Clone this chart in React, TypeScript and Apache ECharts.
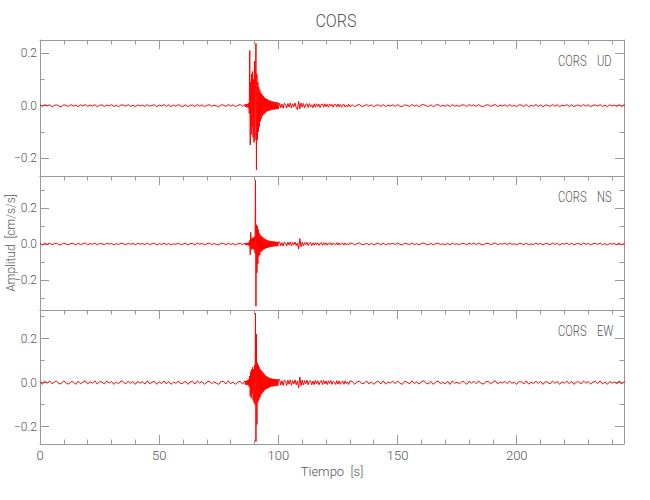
import React, { useEffect, useRef } from "react";
import * as echarts from "echarts";

// ---------- data (cm/s/s) ----------
const STATION = "CORS";
const components = ["UD", "NS", "EW"];
const xMajorTicks = [0, 50, 100, 150, 200];
const xMinorTicks = [10, 20, 30, 40, 60, 70, 80, 90, 110, 120, 130, 140, 160, 170, 180, 190, 210, 220, 230, 240];
const yMajorTicks = [-0.2, 0, 0.2];
const yMinorTicks = [-0.3, -0.1, 0.1, 0.3];
const yMin = [-0.268, -0.367, -0.279];
const yMax = [0.25, 0.378, 0.33];
const X_MAX = 245;

// sampling grids (s)
const QUIET_START = 0, QUIET_STEP = 1;
const BURST_START = 86, BURST_STEP = 0.2;
const CODA_START = 100.5, CODA_STEP = 0.5;
const TAIL_START = 131, TAIL_STEP = 1;

// ---- UD ----
const udQuiet = [
  0.002, -0.003, 0.004, -0.001, 0.003, -0.004, 0.001, 0.003, -0.002, -0.004,
  0.003, 0.001, -0.003, 0.004, -0.002, 0.002, -0.004, 0.003, -0.001, 0.004,
  -0.003, 0.002, -0.002, 0.004, -0.004, 0.001, 0.003, -0.003, 0.002, -0.001,
  0.004, -0.003, 0.001, -0.004, 0.003, 0.002, -0.002, 0.004, -0.003, 0.001,
  -0.004, 0.003, -0.001, 0.002, -0.003, 0.004, -0.002, 0.001, 0.003, -0.004,
  0.002, -0.001, 0.004, -0.003, 0.003, -0.004, 0.002, -0.002, 0.004, -0.001,
  -0.003, 0.003, -0.004, 0.001, 0.002, -0.003, 0.004, -0.002, 0.003, -0.004,
  0.001, 0.004, -0.003, 0.002, -0.001, -0.004, 0.003, 0.002, -0.003, 0.004,
  -0.002, 0.003, -0.004, 0.001, 0.004, -0.003,
];
const udBurst = [
  0.004, -0.005, 0.006, -0.004, 0.005, -0.006, 0.007, -0.008, 0.01, -0.03,
  0.21, -0.15, 0.09, -0.11, 0.12, -0.08, 0.13, -0.12, 0.1, -0.14,
  0.17, -0.13, 0.08, 0.237, -0.245, 0.12, -0.13, 0.09, -0.1, 0.07,
  -0.08, 0.06, -0.06, 0.05, -0.05, 0.045, -0.04, 0.04, -0.035, 0.035,
  -0.03, 0.03, -0.03, 0.028, -0.025, 0.025, -0.022, 0.024, -0.02, 0.02,
  -0.02, 0.018, -0.018, 0.02, -0.017, 0.016, -0.016, 0.015, -0.015, 0.016,
  -0.014, 0.014, -0.015, 0.013, -0.013, 0.014, -0.012, 0.012, -0.013, 0.012,
  -0.012,
];
const udCoda = [
  0.01, -0.008, 0.006, -0.01, 0.009, 0.004, -0.009, 0.008, -0.005, 0.01,
  -0.009, 0.007, -0.004, 0.01, -0.008, -0.015, 0.016, -0.012, 0.01, -0.006,
  0.008, -0.008, 0.004, 0.007, -0.007, 0.008, -0.005, 0.003, -0.008, 0.007,
  -0.006, 0.007, -0.003, 0.006, -0.007, 0.004, 0.006, -0.006, 0.007, -0.004,
  0.005, -0.006, 0.006, -0.002, 0.005, -0.006, 0.004, 0.005, -0.005, 0.006,
  -0.004, 0.005, -0.006, 0.003, 0.005, -0.005, 0.002, -0.005, 0.006, -0.004,
];
const udTail = [
  0.003, -0.004, 0.002, 0.004, -0.003, -0.001, 0.004, -0.002, 0.003, -0.004,
  0.001, 0.003, -0.003, 0.004, -0.004, 0.002, -0.001, 0.003, -0.003, 0.004,
  -0.002, -0.004, 0.003, 0.001, -0.003, 0.004, -0.002, 0.002, -0.004, 0.003,
  0.004, -0.001, -0.003, 0.003, -0.004, 0.002, 0.004, -0.003, 0.001, -0.002,
  0.003, -0.004, 0.004, -0.002, 0.001, -0.003, 0.003, 0.002, -0.004, 0.004,
  -0.001, 0.003, -0.003, 0.004, -0.002, -0.004, 0.002, 0.003, -0.003, 0.001,
  0.004, -0.004, 0.002, -0.001, 0.003, -0.003, 0.004, -0.002, 0.001, -0.004,
  0.003, 0.002, -0.003, 0.004, -0.004, 0.001, -0.002, 0.004, -0.003, 0.003,
  -0.004, 0.002, 0.001, -0.003, 0.004, -0.002, 0.003, -0.004, 0.002, -0.001,
  0.004, -0.003, 0.003, -0.004, 0.001, 0.002, -0.003, 0.004, -0.002, 0.003,
  -0.004, 0.001, 0.003, -0.002, 0.004, -0.003, 0.002, -0.004, 0.003, -0.001,
  0.002, -0.003, 0.004, -0.004, 0.003, -0.002,
];

// ---- NS ----
const nsQuiet = [
  0.003, -0.005, 0.004, -0.002, 0.005, -0.003, 0.001, 0.004, -0.004, -0.002,
  0.005, -0.001, -0.004, 0.003, 0.002, -0.005, 0.004, -0.003, 0.001, 0.005,
  -0.004, 0.002, -0.002, 0.005, -0.005, 0.003, 0.001, -0.004, 0.004, -0.001,
  0.003, -0.005, 0.002, -0.003, 0.005, 0.001, -0.004, 0.004, -0.002, 0.003,
  -0.005, 0.004, -0.001, 0.002, -0.004, 0.005, -0.003, 0.001, 0.004, -0.005,
  0.002, -0.002, 0.005, -0.004, 0.003, -0.005, 0.001, -0.002, 0.005, -0.003,
  -0.001, 0.004, -0.005, 0.002, 0.003, -0.004, 0.005, -0.001, 0.003, -0.005,
  0.001, 0.005, -0.003, 0.002, -0.002, -0.005, 0.004, 0.003, -0.004, 0.005,
  -0.003, 0.002, -0.005, 0.001, 0.004, -0.004,
];
const nsBurst = [
  0.005, -0.006, 0.005, -0.005, 0.006, -0.005, 0.006, -0.007, 0.008, -0.01,
  0.02, -0.06, 0.065, -0.03, 0.03, -0.025, 0.035, -0.03, 0.035, -0.03,
  0.04, -0.05, 0.354, -0.346, 0.107, -0.16, 0.1, -0.11, 0.08, -0.07,
  0.06, -0.06, 0.05, -0.045, 0.045, -0.04, 0.04, -0.035, 0.035, -0.03,
  0.03, -0.028, 0.028, -0.025, 0.025, -0.022, 0.022, -0.02, 0.02, -0.02,
  0.018, -0.018, 0.017, -0.016, 0.016, -0.015, 0.015, -0.015, 0.014, -0.014,
  0.013, -0.013, 0.014, -0.012, 0.012, -0.013, 0.012, -0.012, 0.011, -0.011,
  0.011,
];
const nsCoda = [
  0.012, -0.01, 0.007, -0.012, 0.011, 0.005, -0.011, 0.01, -0.006, 0.012,
  -0.01, 0.008, -0.005, 0.011, -0.009, 0.006, -0.028, 0.03, -0.015, 0.01,
  -0.01, 0.008, -0.004, 0.009, -0.009, 0.005, 0.008, -0.008, 0.006, -0.007,
  0.008, -0.004, 0.007, -0.008, 0.003, 0.007, -0.007, 0.008, -0.005, 0.006,
  -0.007, 0.006, -0.003, 0.007, -0.006, 0.005, 0.002, -0.006, 0.007, -0.005,
  0.006, -0.006, 0.003, 0.005, -0.006, 0.006, -0.004, 0.002, -0.006, 0.005,
];
const nsTail = [
  0.004, -0.005, 0.002, 0.005, -0.003, -0.002, 0.004, -0.004, 0.003, -0.005,
  0.001, 0.004, -0.004, 0.005, -0.005, 0.002, -0.001, 0.004, -0.003, 0.005,
  -0.002, -0.005, 0.004, 0.001, -0.004, 0.005, -0.003, 0.002, -0.005, 0.003,
  0.005, -0.002, -0.004, 0.003, -0.005, 0.002, 0.005, -0.003, 0.001, -0.004,
  0.004, -0.005, 0.005, -0.002, 0.001, -0.004, 0.003, 0.002, -0.005, 0.004,
  -0.001, 0.004, -0.003, 0.005, -0.002, -0.005, 0.003, 0.004, -0.004, 0.001,
  0.005, -0.004, 0.002, -0.001, 0.004, -0.003, 0.005, -0.002, 0.001, -0.005,
  0.003, 0.002, -0.004, 0.005, -0.005, 0.001, -0.003, 0.004, -0.002, 0.004,
  -0.005, 0.003, 0.001, -0.004, 0.005, -0.002, 0.003, -0.005, 0.002, -0.001,
  0.005, -0.003, 0.004, -0.005, 0.001, 0.003, -0.004, 0.005, -0.002, 0.003,
  -0.005, 0.001, 0.004, -0.003, 0.005, -0.004, 0.002, -0.005, 0.003, -0.001,
  0.002, -0.004, 0.005, -0.005, 0.003, -0.002,
];

// ---- EW ----
const ewQuiet = [
  0.005, -0.008, 0.006, -0.003, 0.008, -0.005, 0.002, 0.007, -0.006, -0.004,
  0.008, -0.002, -0.007, 0.005, 0.003, -0.008, 0.006, -0.005, 0.002, 0.008,
  -0.006, 0.004, -0.003, 0.008, -0.007, 0.005, 0.002, -0.006, 0.007, -0.002,
  0.005, -0.008, 0.003, -0.005, 0.008, 0.002, -0.006, 0.007, -0.004, 0.005,
  -0.008, 0.006, -0.002, 0.004, -0.007, 0.008, -0.005, 0.002, 0.006, -0.008,
  0.003, -0.004, 0.008, -0.006, 0.005, -0.008, 0.002, -0.003, 0.007, -0.005,
  -0.002, 0.006, -0.008, 0.003, 0.005, -0.007, 0.008, -0.002, 0.005, -0.008,
  0.002, 0.007, -0.005, 0.004, -0.003, -0.008, 0.006, 0.005, -0.006, 0.008,
  -0.005, 0.003, -0.008, 0.002, 0.006, -0.007,
];
const ewBurst = [
  0.008, -0.009, 0.008, -0.01, 0.009, -0.01, 0.011, -0.012, 0.015, -0.02,
  0.03, -0.06, 0.05, -0.07, 0.06, -0.05, 0.07, -0.08, 0.06, -0.09,
  0.08, -0.1, 0.315, -0.268, 0.22, -0.19, 0.09, -0.09, 0.08, -0.08,
  0.07, -0.07, 0.06, -0.06, 0.055, -0.05, 0.05, -0.045, 0.045, -0.04,
  0.04, -0.035, 0.035, -0.03, 0.03, -0.03, 0.028, -0.025, 0.025, -0.025,
  0.022, -0.022, 0.02, -0.02, 0.02, -0.018, 0.018, -0.018, 0.017, -0.017,
  0.016, -0.016, 0.017, -0.015, 0.015, -0.016, 0.015, -0.014, 0.015, -0.014,
  0.014,
];
const ewCoda = [
  0.014, -0.011, 0.008, -0.013, 0.012, 0.006, -0.013, 0.011, -0.007, 0.013,
  -0.012, 0.009, -0.006, 0.012, -0.01, 0.007, -0.024, 0.025, -0.014, 0.011,
  -0.011, 0.009, -0.005, 0.011, -0.01, 0.006, 0.009, -0.01, 0.007, -0.009,
  0.01, -0.005, 0.009, -0.01, 0.004, 0.009, -0.009, 0.01, -0.006, 0.008,
  -0.009, 0.008, -0.004, 0.009, -0.008, 0.006, 0.003, -0.008, 0.009, -0.007,
  0.008, -0.008, 0.004, 0.007, -0.008, 0.008, -0.005, 0.003, -0.008, 0.007,
];
const ewTail = [
  0.006, -0.008, 0.003, 0.007, -0.005, -0.003, 0.008, -0.006, 0.004, -0.008,
  0.002, 0.006, -0.006, 0.008, -0.007, 0.003, -0.002, 0.007, -0.005, 0.008,
  -0.003, -0.008, 0.006, 0.002, -0.006, 0.008, -0.004, 0.003, -0.007, 0.005,
  0.008, -0.003, -0.006, 0.005, -0.008, 0.003, 0.007, -0.005, 0.002, -0.006,
  0.006, -0.008, 0.007, -0.003, 0.002, -0.006, 0.005, 0.003, -0.008, 0.006,
  -0.002, 0.006, -0.005, 0.008, -0.003, -0.007, 0.004, 0.006, -0.006, 0.002,
  0.008, -0.006, 0.003, -0.002, 0.006, -0.005, 0.007, -0.003, 0.002, -0.008,
  0.005, 0.003, -0.006, 0.008, -0.007, 0.002, -0.004, 0.006, -0.003, 0.006,
  -0.008, 0.004, 0.002, -0.006, 0.007, -0.003, 0.005, -0.008, 0.003, -0.002,
  0.007, -0.005, 0.006, -0.008, 0.002, 0.004, -0.006, 0.008, -0.003, 0.005,
  -0.007, 0.002, 0.006, -0.004, 0.008, -0.006, 0.003, -0.008, 0.005, -0.002,
  0.003, -0.006, 0.008, -0.007, 0.005, -0.003,
];

const traces = [
  [udQuiet, udBurst, udCoda, udTail],
  [nsQuiet, nsBurst, nsCoda, nsTail],
  [ewQuiet, ewBurst, ewCoda, ewTail],
];

function buildTrace(segs: number[][]): number[][] {
  const starts = [QUIET_START, BURST_START, CODA_START, TAIL_START];
  const steps = [QUIET_STEP, BURST_STEP, CODA_STEP, TAIL_STEP];
  const pts: number[][] = [];
  segs.forEach((vals, s) => {
    vals.forEach((v, i) => pts.push([+(starts[s] + i * steps[s]).toFixed(3), v]));
  });
  return pts;
}

// ---------- styling ----------
const FONT = "Roboto, 'Liberation Sans', sans-serif";
const WEIGHT = 300;
const TEXT = "#555";
const AXIS = "#999";
const MAJ = 9;
const MIN = 4.5;
const gridTops = [40, 176, 310];
const gridHeights = [136, 134, 134];
const GRID_LEFT = 40;
const GRID_RIGHT = 26;

function fmtY(v: number) {
  if (v === 0) return "0.0";
  return (v < 0 ? "\u2212" : "") + Math.abs(v).toFixed(1);
}

function buildOption() {
  const grid: any[] = [];
  const xAxis: any[] = [];
  const yAxis: any[] = [];
  const series: any[] = [];
  const graphic: any[] = [];
  const labelStyle = { color: TEXT, fontSize: 12, fontFamily: FONT, fontWeight: WEIGHT };

  components.forEach((comp, i) => {
    grid.push({
      left: GRID_LEFT,
      right: GRID_RIGHT,
      top: gridTops[i],
      height: gridHeights[i],
      containLabel: false,
      outerBoundsMode: "none",
    });
    const last = i === components.length - 1;
    const baseX = { type: "value", gridIndex: i, min: 0, max: X_MAX, splitLine: { show: false } };
    xAxis.push({
      ...baseX,
      position: "bottom",
      axisLine: { show: true, onZero: false, lineStyle: { color: AXIS, width: 1 } },
      axisTick: { show: last, inside: true, length: MAJ, customValues: xMajorTicks, lineStyle: { color: AXIS } },
      axisLabel: { show: last, customValues: xMajorTicks, margin: 5, ...labelStyle, fontSize: 13 },
      name: last ? "Tiempo  [s]" : "",
      nameLocation: "middle",
      nameGap: 21,
      nameMoveOverlap: false,
      nameTextStyle: { ...labelStyle, fontSize: 13 },
    });
    xAxis.push({
      ...baseX,
      position: "bottom",
      axisLine: { show: false, onZero: false },
      axisTick: { show: last, inside: true, length: MIN, customValues: xMinorTicks, lineStyle: { color: AXIS } },
      axisLabel: { show: false },
    });
    xAxis.push({
      ...baseX,
      position: "top",
      axisLine: { show: true, onZero: false, lineStyle: { color: AXIS, width: 1 } },
      axisTick: { show: true, inside: true, length: MAJ, customValues: xMajorTicks, lineStyle: { color: AXIS } },
      axisLabel: { show: false },
    });
    xAxis.push({
      ...baseX,
      position: "top",
      axisLine: { show: false, onZero: false },
      axisTick: { show: true, inside: true, length: MIN, customValues: xMinorTicks, lineStyle: { color: AXIS } },
      axisLabel: { show: false },
    });

    const lo = yMin[i], hi = yMax[i];
    const majors = yMajorTicks.filter((v) => v >= lo && v <= hi);
    const minors = yMinorTicks.filter((v) => v >= lo && v <= hi);
    const baseY = { type: "value", gridIndex: i, min: lo, max: hi, splitLine: { show: false } };
    yAxis.push({
      ...baseY,
      position: "left",
      axisLine: { show: true, onZero: false, lineStyle: { color: AXIS, width: 1 } },
      axisTick: { show: true, inside: true, length: MAJ, customValues: majors, lineStyle: { color: AXIS } },
      axisLabel: { show: true, customValues: majors, formatter: fmtY, margin: 3, ...labelStyle },
      name: i === 1 ? "Amplitud  [cm/s/s]" : "",
      nameLocation: "middle",
      nameGap: 23,
      nameRotate: 90,
      nameMoveOverlap: false,
      nameTextStyle: labelStyle,
    });
    yAxis.push({
      ...baseY,
      position: "left",
      axisLine: { show: false, onZero: false },
      axisTick: { show: true, inside: true, length: MIN, customValues: minors, lineStyle: { color: AXIS } },
      axisLabel: { show: false },
    });
    yAxis.push({
      ...baseY,
      position: "right",
      axisLine: { show: true, onZero: false, lineStyle: { color: AXIS, width: 1 } },
      axisTick: { show: true, inside: true, length: MAJ, customValues: majors, lineStyle: { color: AXIS } },
      axisLabel: { show: false },
    });
    yAxis.push({
      ...baseY,
      position: "right",
      axisLine: { show: false, onZero: false },
      axisTick: { show: true, inside: true, length: MIN, customValues: minors, lineStyle: { color: AXIS } },
      axisLabel: { show: false },
    });

    series.push({
      type: "line",
      xAxisIndex: i * 4,
      yAxisIndex: i * 4,
      data: buildTrace(traces[i]),
      showSymbol: false,
      symbol: "none",
      clip: true,
      lineStyle: { color: "#ff0000", width: 1 },
      silent: true,
    });

    const labelY = gridTops[i] + 21;
    graphic.push({
      type: "text",
      x: 558,
      y: labelY,
      scaleX: 0.8,
      style: { text: STATION, fill: TEXT, fontSize: 14, fontFamily: FONT, fontWeight: WEIGHT, align: "left", verticalAlign: "middle" },
    });
    graphic.push({
      type: "text",
      x: 597,
      y: labelY,
      scaleX: 0.8,
      style: { text: comp, fill: TEXT, fontSize: 14, fontFamily: FONT, fontWeight: WEIGHT, align: "left", verticalAlign: "middle" },
    });
  });

  graphic.push({
    type: "text",
    x: 336,
    y: 21,
    scaleX: 0.85,
    style: { text: STATION, fill: TEXT, fontSize: 19, fontFamily: FONT, fontWeight: WEIGHT, align: "center", verticalAlign: "middle" },
  });

  return { animation: false, backgroundColor: "#fff", grid, xAxis, yAxis, series, graphic };
}

export default function App() {
  const ref = useRef<HTMLDivElement>(null);
  useEffect(() => {
    if (!ref.current) return;
    const chart = echarts.init(ref.current, null, { renderer: "svg" });
    chart.setOption(buildOption() as any);
    return () => chart.dispose();
  }, []);
  return <div ref={ref} style={{ position: "absolute", left: 0, top: 0, width: 650, height: 500 }} />;
}
